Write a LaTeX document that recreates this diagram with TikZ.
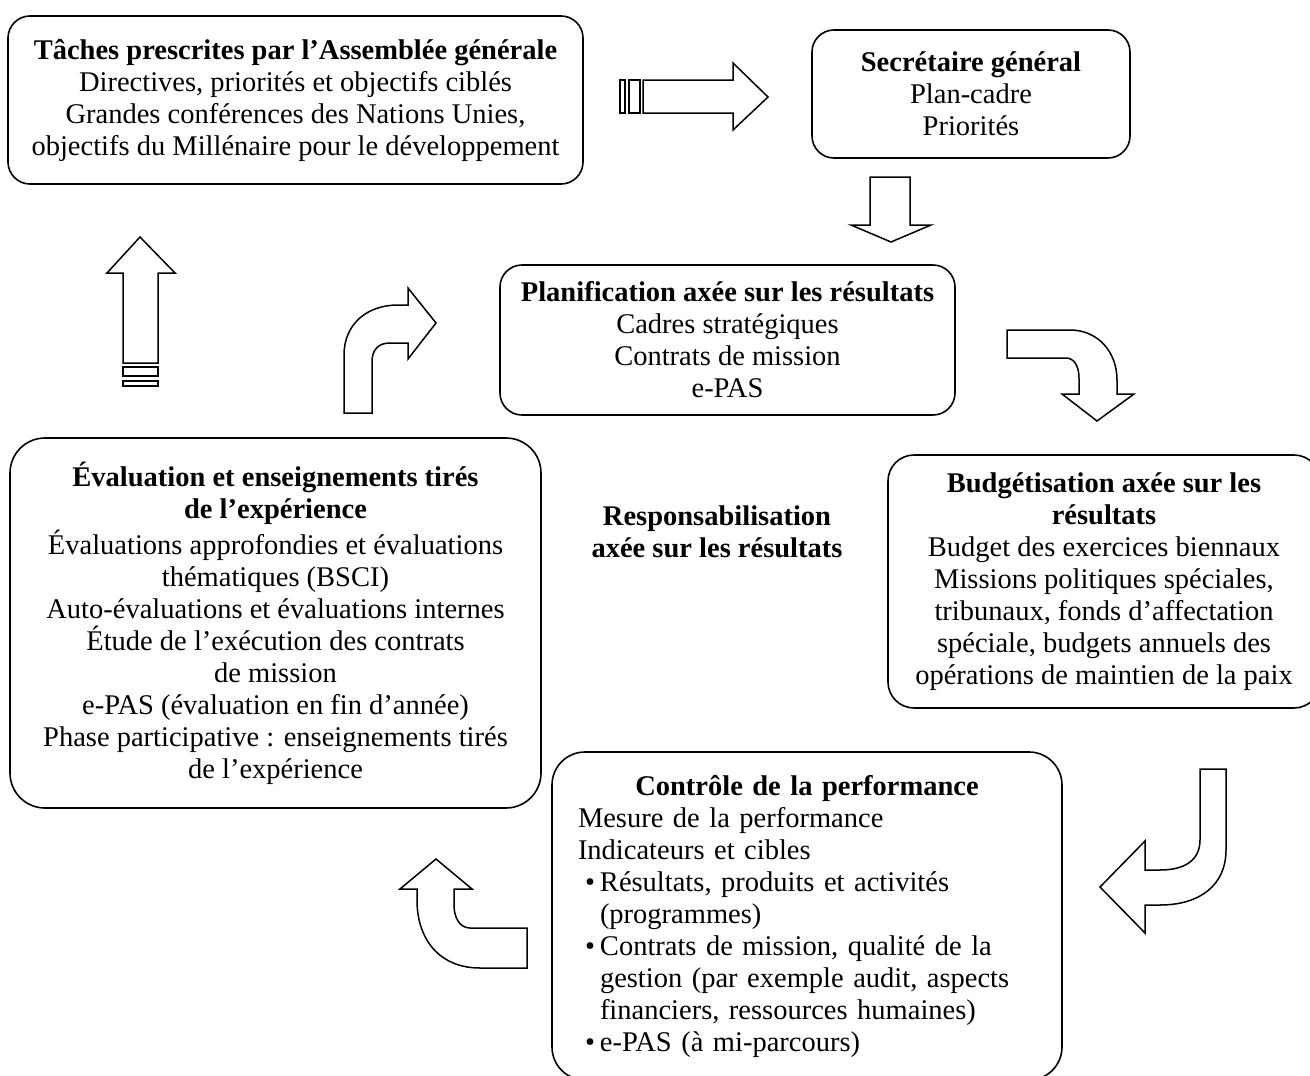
\documentclass[tikz,border=0pt]{standalone}
\usepackage{fontspec}
\setmainfont{Liberation Serif}
\usetikzlibrary{positioning,calc}
\newcommand{\bl}{\makebox[22pt][l]{\hspace{7pt}\textbullet}}
\newcommand{\ind}{\hspace*{22pt}}

\begin{document}
\begin{tikzpicture}[x=1pt,y=-1pt,
  box/.style={rectangle,rounded corners=22pt,draw,line width=1.6pt,
              align=center,font=\fontsize{28.5}{32}\selectfont,inner sep=0pt},
  lbl/.style={align=center,font=\fontsize{28.5}{32}\selectfont\bfseries},
  blk/.style={draw,line width=1.5pt,line join=miter,fill=white}
]
\useasboundingbox (0,0) rectangle (1310,1076);

% boxes
\node[box,minimum width=575pt,minimum height=168pt] (tasks) at (295.5,100)
  {\textbf{Tâches prescrites par l'Assemblée générale}\\
   Directives, priorités et objectifs ciblés\\
   Grandes conférences des Nations Unies,\\
   objectifs du Millénaire pour le développement};
\node[box,minimum width=318pt,minimum height=128pt] (sg) at (971,94)
  {\textbf{Secrétaire général}\\Plan-cadre\\Priorités};
\node[box,minimum width=455pt,minimum height=150pt] (plan) at (727.5,340)
  {\textbf{Planification axée sur les résultats}\\
   Cadres stratégiques\\Contrats de mission\\e-PAS};
\node[box,rounded corners=26pt,minimum width=432pt,minimum height=253pt] (budget) at (1104,581.5)
  {\textbf{Budgétisation axée sur les}\\\textbf{résultats}\\
   Budget des exercices biennaux\\
   Missions politiques spéciales,\\
   tribunaux, fonds d'affectation\\
   spéciale, budgets annuels des\\
   opérations de maintien de la paix};
\node[box,rounded corners=35pt,minimum width=531pt,minimum height=370pt] (eval) at (275.5,623)
  {\textbf{Évaluation et enseignements tirés}\\\textbf{de l'expérience}\\[4pt]
   Évaluations approfondies et évaluations\\
   thématiques (BSCI)\\
   Auto-évaluations et évaluations internes\\
   Étude de l'exécution des contrats\\
   de mission\\
   e-PAS (évaluation en fin d'année)\\
   Phase participative : enseignements tirés\\
   de l'expérience};
\node[box,rounded corners=33pt,minimum width=510pt,minimum height=328pt,
      align=left,text width=458pt,inner xsep=26pt] (perf) at (807,916)
  {\makebox[\linewidth]{\textbf{Contrôle de la performance}}\\
   Mesure de la performance\\
   Indicateurs et cibles\\
   \bl Résultats, produits et activités\\
   \ind(programmes)\\
   \bl Contrats de mission, qualité de la\\
   \ind gestion (par exemple audit, aspects\\
   \ind financiers, ressources humaines)\\
   \bl e-PAS (à mi-parcours)};
\node[lbl] (acct) at (717,532) {Responsabilisation\\axée sur les résultats};

% block arrows
\draw[blk] (620,80) rectangle (625,113);
\draw[blk] (629,80) rectangle (640,113);
\draw[blk] (643,80) -- (733,80) -- (733,63) -- (768,97) -- (733,130)
  -- (733,113) -- (643,113) -- cycle;
\draw[blk] (870,177) -- (910,177) -- (910,225) -- (931,225) -- (891,242)
  -- (851,225) -- (870,225) -- cycle;
\draw[blk] (123,363) -- (123,273) -- (107,273) -- (140,237) -- (175,273)
  -- (158,273) -- (158,363) -- cycle;
\draw[blk] (123,367) rectangle (158,376);
\draw[blk] (123,381) rectangle (158,386);
\draw[blk] (344,413) -- (344,355) .. controls (344,325) and (366,305) .. (398,305)
  -- (408,305) -- (408,288) -- (436,323) -- (408,359) -- (408,343) -- (390,343)
  .. controls (378,343) and (372,350) .. (372,362) -- (372,413) -- cycle;
\draw[blk] (1007,330) -- (1070,330) .. controls (1098,330) and (1117,352) .. (1117,380)
  -- (1117,394) -- (1134,394) -- (1097,421) -- (1062,394) -- (1079,394) -- (1079,378)
  .. controls (1079,366) and (1074,358) .. (1066,358) -- (1007,358) -- cycle;
\draw[blk] (1200,769) -- (1226,769) -- (1226,850) .. controls (1226,885) and (1200,905) .. (1160,905)
  -- (1145,905) -- (1145,933) -- (1100,887) -- (1145,841) -- (1145,870) -- (1160,870)
  .. controls (1185,870) and (1200,860) .. (1200,840) -- cycle;
\draw[blk] (527,968) -- (480,968) .. controls (440,968) and (417,940) .. (417,900)
  -- (417,889) -- (400,889) -- (436,859) -- (472,889) -- (454,889) -- (454,905)
  .. controls (454,918) and (460,928) .. (470,928) -- (527,928) -- cycle;
\end{tikzpicture}
\end{document}
